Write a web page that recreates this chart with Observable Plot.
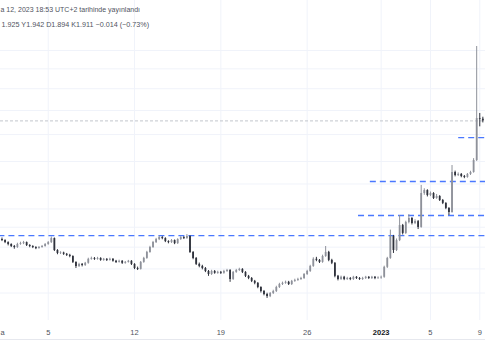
<!DOCTYPE html>
<html>
<head>
<meta charset="utf-8">
<script src="https://cdn.jsdelivr.net/npm/d3@7"></script>
<script src="https://cdn.jsdelivr.net/npm/@observablehq/plot@0.6"></script>
<style>
  body { margin: 0; background: #fff; }
  #chart { width: 485px; }
  #sep { width: 485px; height: 1px; background: #e6e8ee; }
</style>
</head>
<body>
<div id="chart"></div>
<div id="sep"></div>
<script>
// ---- data (6-hour candles, Dec 1 2022 -> Jan 9 2023) ----
const firstOpen = 1.137;
const closes = [
  1.132,1.122,1.113,1.103,1.098,1.113,1.117,1.122,1.108,1.103,
  1.098,1.093,1.098,1.103,1.113,1.122,1.142,1.084,1.070,1.072,
  1.066,1.061,1.056,1.029,1.011,1.020,1.015,1.025,1.043,1.047,
  1.043,1.047,1.038,1.043,1.038,1.043,1.034,1.029,1.034,1.025,
  1.029,1.034,1.020,1.002,0.998,1.029,1.047,1.075,1.098,1.122,
  1.137,1.147,1.142,1.127,1.122,1.132,1.117,1.137,1.147,1.142,
  1.152,1.075,1.047,1.020,1.011,1.002,0.989,0.976,0.989,0.981,
  0.985,0.981,0.989,0.993,0.955,0.985,0.993,0.998,0.985,0.968,
  0.959,0.947,0.939,0.922,0.906,0.894,0.886,0.898,0.906,0.922,
  0.934,0.939,0.943,0.934,0.947,0.951,0.955,0.959,0.976,0.989,
  1.011,1.043,1.038,1.029,1.056,1.075,1.038,1.025,0.968,0.955,
  0.964,0.955,0.959,0.955,0.964,0.959,0.955,0.959,0.964,0.959,
  0.964,0.959,0.961,0.964,1.007,1.047,1.152,1.084,1.132,1.209,
  1.168,1.225,1.247,1.220,1.230,1.199,1.391,1.409,1.379,1.391,
  1.361,1.373,1.349,1.332,1.303,1.280,1.525,1.505,1.512,1.498,
  1.492,1.512,1.525,1.607,1.931,1.925,1.911
];
const highs = [
  1.145,1.136,1.126,1.116,1.108,1.119,1.124,1.128,1.125,1.112,
  1.107,1.102,1.103,1.108,1.117,1.127,1.150,1.145,1.088,1.078,
  1.076,1.070,1.066,1.059,1.032,1.025,1.024,1.029,1.048,1.053,
  1.051,1.052,1.050,1.047,1.046,1.048,1.046,1.038,1.039,1.037,
  1.033,1.038,1.037,1.023,1.008,1.033,1.052,1.080,1.104,1.128,
  1.143,1.154,1.152,1.146,1.131,1.137,1.135,1.141,1.152,1.152,
  1.162,1.156,1.079,1.051,1.026,1.016,1.006,0.993,0.994,0.993,
  0.990,0.989,0.994,0.998,0.997,0.989,0.998,1.003,1.001,0.988,
  0.972,0.963,0.951,0.942,0.925,0.910,0.899,0.902,0.911,0.927,
  0.939,0.944,0.948,0.947,0.951,0.956,0.960,0.964,0.980,0.994,
  1.016,1.050,1.052,1.042,1.062,1.103,1.080,1.043,1.028,0.972,
  0.969,0.968,0.964,0.963,0.968,0.967,0.963,0.964,0.968,0.967,
  0.968,0.967,0.966,0.969,1.012,1.052,1.185,1.158,1.140,1.263,
  1.215,1.232,1.268,1.252,1.240,1.236,1.441,1.420,1.414,1.400,
  1.396,1.385,1.378,1.355,1.336,1.308,1.572,1.534,1.522,1.518,
  1.505,1.518,1.533,1.620,2.646,1.974,1.942
];
const lows = [
  1.127,1.117,1.106,1.098,1.090,1.094,1.109,1.112,1.103,1.097,
  1.093,1.088,1.090,1.095,1.100,1.109,1.118,1.079,1.064,1.065,
  1.061,1.056,1.050,1.024,1.002,1.006,1.009,1.011,1.021,1.039,
  1.038,1.039,1.034,1.034,1.033,1.035,1.030,1.024,1.026,1.020,
  1.021,1.026,1.015,0.997,0.993,0.995,1.025,1.043,1.071,1.094,
  1.118,1.132,1.136,1.122,1.116,1.118,1.112,1.113,1.133,1.137,
  1.138,1.070,1.041,1.015,1.005,0.996,0.984,0.968,0.972,0.977,
  0.977,0.976,0.977,0.985,0.943,0.951,0.981,0.989,0.980,0.963,
  0.954,0.942,0.933,0.917,0.900,0.889,0.879,0.882,0.894,0.902,
  0.918,0.930,0.935,0.930,0.930,0.943,0.947,0.951,0.955,0.972,
  0.985,1.007,1.032,1.024,1.025,1.052,1.032,1.019,0.962,0.949,
  0.951,0.950,0.951,0.950,0.951,0.955,0.951,0.951,0.955,0.955,
  0.955,0.954,0.955,0.956,0.960,1.002,1.043,1.070,1.079,1.127,
  1.160,1.163,1.218,1.212,1.214,1.188,1.195,1.380,1.370,1.372,
  1.355,1.356,1.343,1.325,1.296,1.263,1.276,1.496,1.498,1.490,
  1.484,1.487,1.505,1.520,1.600,1.862,1.894
];

// horizontal levels (blue dashed) and their start times
const levelPrices = [1.157, 1.263, 1.466, 1.776];
const levelStarts = ["2022-12-01T00:00Z", "2022-12-30T04:00Z", "2022-12-31T03:00Z", "2023-01-07T07:00Z"];
const lastPrice = 1.911;

// grid & axis
const gridPrices = [2.6, 2.4, 2.2, 2.0, 1.8, 1.6, 1.45, 1.3, 1.2, 1.1, 1.0, 0.9];
const tickDates = ["2022-12-01", "2022-12-05", "2022-12-12", "2022-12-19", "2022-12-26", "2023-01-01", "2023-01-05", "2023-01-09"];
const tickLabels = ["a", "5", "12", "19", "26", "2023", "5", "9"];

const headerLine1 = "a 12, 2023 18:53 UTC+2 tarihinde yayınlandı";
const headerLine2 = "1.925 Y1.942 D1.894 K1.911 −0.014 (−0.73%)";

// ---- build table ----
const H6 = 6 * 3600 * 1000;
const t0 = Date.UTC(2022, 11, 1);
const candles = closes.map((c, i) => {
  const open = i === 0 ? firstOpen : closes[i - 1];
  return {date: new Date(t0 + (i + 1) * H6), open, close: c, high: highs[i], low: lows[i], up: c >= open};
});
const xDomain = [new Date(t0 + 0.13 * 86400000), new Date(t0 + 39.465 * 86400000)];
const levels = levelPrices.map((p, i) => ({p, start: new Date(levelStarts[i]), end: xDomain[1]}));
const ticks = tickDates.map((d, i) => ({date: new Date(d + "T00:00Z"), label: tickLabels[i], i}));

const upColor = "#8e919a", downColor = "#2f323c";
const font = "Liberation Sans, Arial, sans-serif";

const chart = Plot.plot({
  width: 485,
  height: 339,
  marginTop: 0,
  marginBottom: 19,
  marginLeft: 0,
  marginRight: 0,
  style: {fontFamily: font, background: "#fff"},
  x: {type: "utc", domain: xDomain, axis: null},
  y: {type: "log", domain: [0.798, 3.236], axis: null},
  marks: [
    Plot.ruleY(gridPrices, {stroke: "#f0f3fa", strokeWidth: 1}),
    Plot.ruleX(ticks, {x: "date", stroke: "#f0f3fa", strokeWidth: 1}),
    Plot.ruleY([lastPrice], {stroke: "#c3c6cd", strokeDasharray: "3,2", strokeWidth: 1}),
    Plot.ruleY(levels, {y: "p", x1: "start", x2: "end", stroke: "#4a78ff", strokeWidth: 1.4, strokeDasharray: "6,4"}),
    Plot.ruleX(candles, {x: "date", y1: "low", y2: "high", stroke: d => d.up ? upColor : downColor, strokeWidth: 1}),
    Plot.ruleX(candles, {x: "date", y1: "open", y2: "close", stroke: d => d.up ? upColor : downColor, strokeWidth: 1.8}),
    Plot.text(ticks.filter(d => d.i === 0), {x: "date", text: "label", frameAnchor: "bottom", lineAnchor: "middle", textAnchor: "start", dx: 1.6, dy: 12, fontSize: 7.5, fill: "#50535e"}),
    Plot.text(ticks.filter(d => d.i > 0 && d.label !== "2023"), {x: "date", text: "label", frameAnchor: "bottom", lineAnchor: "middle", dy: 12, fontSize: 7.5, fill: "#50535e"}),
    Plot.text(ticks.filter(d => d.label === "2023"), {x: "date", text: "label", frameAnchor: "bottom", lineAnchor: "middle", dy: 12, fontSize: 7.5, fontWeight: "bold", fill: "#131722"}),
    Plot.text([headerLine1], {frameAnchor: "top-left", lineAnchor: "middle", textAnchor: "start", dy: 9, dx: 0, fontSize: 7, fill: "#50535e"}),
    Plot.text([headerLine2], {frameAnchor: "top-left", lineAnchor: "middle", textAnchor: "start", dy: 24, dx: 1, fontSize: 7.2, fill: "#50535e"})
  ]
});
document.getElementById("chart").appendChild(chart);
</script>
</body>
</html>
